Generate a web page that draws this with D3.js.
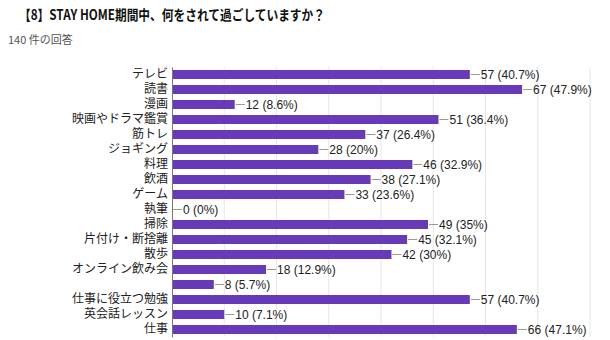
<!DOCTYPE html>
<html>
<head>
<meta charset="utf-8">
<script src="https://cdn.jsdelivr.net/npm/d3@7"></script>
<style>
  html, body { margin: 0; padding: 0; background: #fff; }
  svg { display: block; }
</style>
</head>
<body>
<svg id="chart" width="610" height="340"></svg>
<script>
const titleText = "【8】STAY HOME期間中、何をされて過ごしていますか？";
const subtitleText = "140 件の回答";
const totalResponses = 140;
const categories = ["テレビ", "読書", "漫画", "映画やドラマ鑑賞", "筋トレ", "ジョギング", "料理", "飲酒", "ゲーム", "執筆", "掃除", "片付け・断捨離", "散歩", "オンライン飲み会", "", "仕事に役立つ勉強", "英会話レッスン", "仕事"];
const counts = [57, 67, 12, 51, 37, 28, 46, 38, 33, 0, 49, 45, 42, 18, 8, 57, 10, 66];
const gridTicks = [10, 20, 30, 40, 50, 60, 70, 80];

const svg = d3.select("#chart");
const margin = { left: 172, top: 67 };

const x = d3.scaleLinear().domain([0, 80]).range([margin.left, 590]);
const y = d3.scaleBand()
  .domain(categories.map((d, i) => i))
  .range([margin.top, margin.top + 15 * categories.length])
  .paddingInner(0.4)
  .paddingOuter(0.2);

// title
svg.append("text")
  .attr("x", 19).attr("y", 20)
  .attr("font-family", "'Noto Sans CJK JP', sans-serif")
  .attr("font-weight", "bold")
  .attr("font-size", 14)
  .attr("textLength", 306)
  .attr("lengthAdjust", "spacingAndGlyphs")
  .attr("fill", "#111")
  .text(titleText);

svg.append("text")
  .attr("x", 8).attr("y", 44)
  .attr("font-family", "'Noto Sans CJK JP', sans-serif")
  .attr("font-size", 11)
  .attr("fill", "#555")
  .text(subtitleText);

// gridlines
const [y0, y1] = y.range();
svg.append("g")
  .selectAll("line")
  .data(gridTicks)
  .join("line")
  .attr("x1", d => x(d)).attr("x2", d => x(d))
  .attr("y1", y0).attr("y2", y1)
  .attr("stroke", "#e6e6e6")
  .attr("stroke-width", 1);

// bars
svg.append("g")
  .selectAll("rect")
  .data(counts)
  .join("rect")
  .attr("x", x(0))
  .attr("y", (d, i) => y(i))
  .attr("width", d => x(d) - x(0))
  .attr("height", y.bandwidth())
  .attr("fill", "#673ab7");

// y axis
const yAxis = d3.axisLeft(y).tickSize(0).tickPadding(4).tickFormat(i => categories[i]);
const gy = svg.append("g")
  .attr("transform", `translate(${x(0)},0)`)
  .call(yAxis);
gy.select(".domain").attr("stroke", "#777");
gy.selectAll("text")
  .attr("font-family", "'Noto Sans CJK JP', sans-serif")
  .attr("font-size", 12)
  .attr("fill", "#222");

// value labels
const fmt = d3.format(".1~f");
const lab = svg.append("g").selectAll("g")
  .data(counts)
  .join("g")
  .attr("transform", (d, i) => `translate(${x(d)},${y(i) + y.bandwidth() / 2})`);
lab.append("line")
  .attr("x1", 1).attr("x2", 10)
  .attr("stroke", "#999").attr("stroke-width", 1);
lab.append("text")
  .attr("x", 11)
  .attr("dy", "0.36em")
  .attr("font-family", "'Liberation Sans', Arial, sans-serif")
  .attr("font-size", 12)
  .attr("fill", "#222")
  .text(d => `${d} (${fmt(d / totalResponses * 100)}%)`);
</script>
</body>
</html>
